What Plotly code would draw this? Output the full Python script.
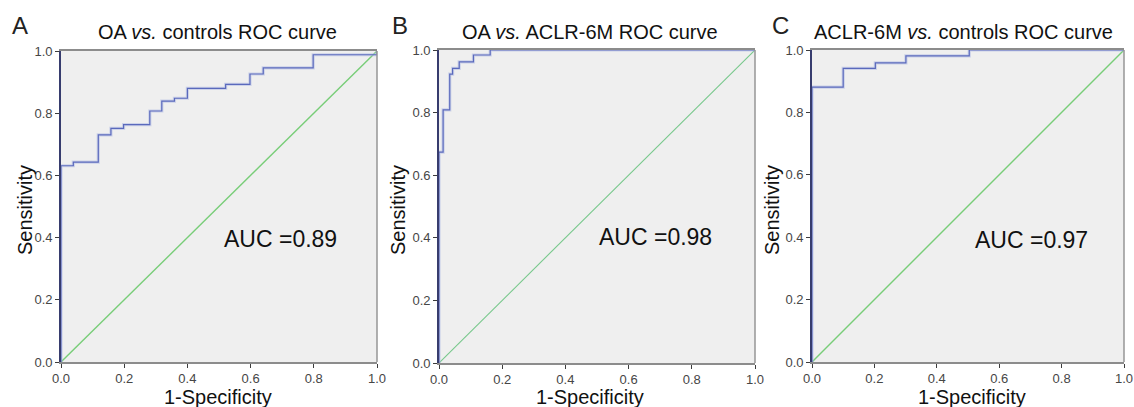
import plotly.graph_objects as go

W, H = 1134, 407

# ---- data ----
fpr_a = [0, 0, 0.039, 0.118, 0.158, 0.198, 0.281, 0.319, 0.359, 0.400, 0.521, 0.598, 0.640, 0.798, 1.0, 1.0]
tpr_a = [0, 0.631, 0.643, 0.730, 0.751, 0.763, 0.807, 0.839, 0.848, 0.880, 0.893, 0.926, 0.946, 0.988, 0.988, 1.0]

fpr_b = [0, 0, 0.013, 0.034, 0.043, 0.064, 0.109, 0.162, 1.0]
tpr_b = [0, 0.674, 0.809, 0.923, 0.941, 0.962, 0.984, 1.0, 1.0]

fpr_c = [0, 0, 0.100, 0.203, 0.301, 0.504, 1.0]
tpr_c = [0, 0.881, 0.941, 0.959, 0.981, 1.0, 1.0]

ref_line = [0, 1]

titles = ["OA <i>vs.</i> controls ROC curve", "OA <i>vs.</i> ACLR-6M ROC curve", "ACLR-6M <i>vs.</i> controls ROC curve"]
letters = ["A", "B", "C"]
auc_labels = ["AUC =0.89", "AUC =0.98", "AUC =0.97"]
x_title = "1-Specificity"
y_title = "Sensitivity"
tick_vals = [0, 0.2, 0.4, 0.6, 0.8, 1.0]
tick_text = ["0.0", "0.2", "0.4", "0.6", "0.8", "1.0"]

# ---- layout geometry (pixels) ----
panels = [
    dict(x0=61, x1=377, y0=362, y1=51, title_x=217, letter_x=20, auc_x=280, auc_y=239,
         xt_x=218, yt_x=25, diag="rgb(120,205,120)", diag_w=1.4),
    dict(x0=439, x1=755, y0=363, y1=50, title_x=590, letter_x=400, auc_x=655, auc_y=237,
         xt_x=590, yt_x=398, diag="rgb(120,200,140)", diag_w=1.1),
    dict(x0=812, x1=1124, y0=362, y1=50, title_x=963, letter_x=780, auc_x=1031, auc_y=240,
         xt_x=972, yt_x=772, diag="rgb(120,205,120)", diag_w=1.4),
]
curves = [(fpr_a, tpr_a), (fpr_b, tpr_b), (fpr_c, tpr_c)]

FONT = "Liberation Sans, Arial, Helvetica, sans-serif"
fig = go.Figure()
annotations = []
shapes = []


def ann(text, px, py, size, color="#111", angle=0):
    return dict(text=text, xref="paper", yref="paper", x=px / W, y=1 - py / H,
                xanchor="center", yanchor="middle", showarrow=False, textangle=angle,
                font=dict(family=FONT, size=size, color=color))


for i, (p, (fx, ty)) in enumerate(zip(panels, curves)):
    n = "" if i == 0 else str(i + 1)
    xa, ya = "x" + n, "y" + n
    fig.add_trace(go.Scatter(x=ref_line, y=ref_line, mode="lines", xaxis=xa, yaxis=ya,
                             line=dict(color=p["diag"], width=p["diag_w"]), showlegend=False, hoverinfo="skip"))
    fig.add_trace(go.Scatter(x=fx, y=ty, mode="lines", line_shape="hv", xaxis=xa, yaxis=ya,
                             line=dict(color="rgba(175,185,228,0.55)", width=3.2), showlegend=False, hoverinfo="skip"))
    fig.add_trace(go.Scatter(x=fx, y=ty, mode="lines", line_shape="hv", xaxis=xa, yaxis=ya,
                             line=dict(color="rgb(90,105,188)", width=1.2), showlegend=False))

    xdom = [p["x0"] / W, p["x1"] / W]
    ydom = [1 - p["y0"] / H, 1 - p["y1"] / H]
    axis_common = dict(range=[0, 1], tickvals=tick_vals, ticktext=tick_text, ticks="outside",
                       ticklen=4, tickwidth=1, tickcolor="rgb(60,60,60)", showgrid=False, zeroline=False,
                       showline=True, automargin=False,
                       tickfont=dict(family=FONT, size=13, color="rgb(70,70,70)"))
    fig.update_layout(**{
        ("xaxis" + n): dict(domain=xdom, anchor=ya, linecolor="rgb(140,140,140)", linewidth=1.5, mirror=True,
                            **axis_common),
        ("yaxis" + n): dict(domain=ydom, anchor=xa, linecolor="rgb(55,60,110)", linewidth=1.8, mirror=False,
                            **axis_common),
    })
    shapes.append(dict(type="line", xref=xa + " domain", yref=ya + " domain", x0=1, x1=1, y0=0, y1=1,
                       line=dict(color="rgb(150,150,150)", width=1.5)))
    annotations.append(ann(titles[i], p["title_x"], 32, 20))
    annotations.append(ann(letters[i], p["letter_x"], 25, 24, "#222"))
    annotations.append(ann(auc_labels[i], p["auc_x"], p["auc_y"], 23))
    annotations.append(ann(x_title, p["xt_x"], 397, 20))
    annotations.append(ann(y_title, p["yt_x"], 210, 20, angle=-90))

fig.update_layout(width=W, height=H, margin=dict(l=0, r=0, t=0, b=0, autoexpand=False),
                  paper_bgcolor="white", plot_bgcolor="rgb(239,239,239)",
                  annotations=annotations, shapes=shapes, showlegend=False)

fig.write_html("out.html", config={"displayModeBar": False},
               post_script="document.body.style.margin='0';document.body.style.overflow='hidden';")
